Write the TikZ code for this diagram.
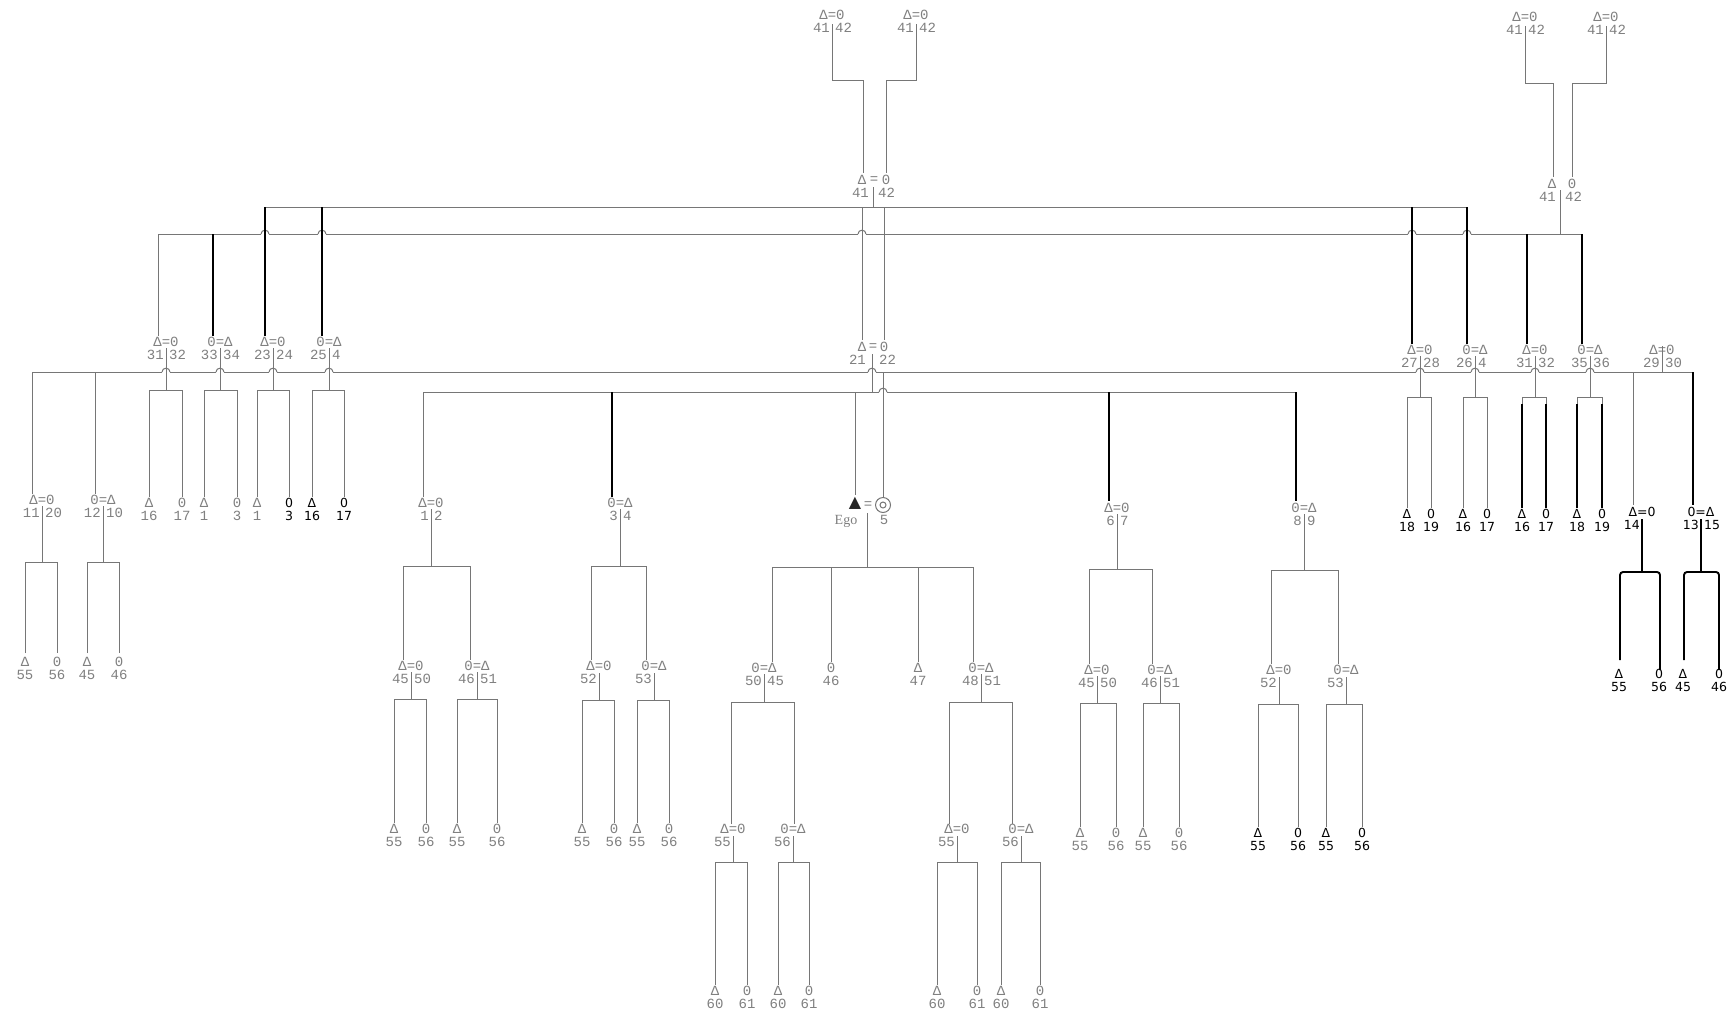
\documentclass[tikz,border=0pt]{standalone}
\usepackage{fontspec}
\newfontfamily\gfont{Liberation Mono}
\newfontfamily\bfnt{DejaVu Sans}
\newfontfamily\sfnt{Liberation Serif}
\newfontfamily\dvs{DejaVu Sans}
\definecolor{lgray}{RGB}{118,118,118}
\definecolor{tgray}{RGB}{128,128,128}
\tikzset{
 ln/.style={draw=lgray,line width=1pt},
 bk/.style={draw=black,line width=1.9pt},
 gt/.style={text=tgray,font=\gfont\fontsize{14pt}{14pt}\selectfont,inner sep=0pt},
 bt/.style={text=black,font=\bfnt\fontsize{12.5pt}{12.5pt}\selectfont,inner sep=0pt},
}
\newcounter{kc}
\newcommand\cpl[7]{%
 \node[#7] (#1) at (#2,#3) {#4};
 \node[#7,anchor=east] (#1l) at ({#2-2},{#3+13}) {#5};
 \node[#7,anchor=west] (#1r) at ({#2+3},{#3+13}) {#6};}
\newcommand\kid[5]{\stepcounter{kc}%
 \node[#5] (k\arabic{kc}) at (#1,#2) {#3};
 \node[#5] (k\arabic{kc}n) at (#1,{#2+13}) {#4};}
\newcommand\fmly[7]{%
 \draw[#7] (#1,#2) -- (#1,#3);
 \draw[#7] (#4,#6) -- (#4,#3) -- (#5,#3) -- (#5,#6);}
\newcommand\hopx[2]{%
 \fill[white] ({#1-4},{#2-1.6}) rectangle ({#1+4},{#2+1.6});
 \draw[ln] ({#1-4},#2) .. controls ({#1-4},{#2-5}) and ({#1+4},{#2-5}) .. ({#1+4},#2);}
\begin{document}
\begin{tikzpicture}[x=1pt,y=-1pt]
\useasboundingbox (0,0) rectangle (1729,1018);
\fill[white] (0,0) rectangle (1729,1018);
% ---------- top generation
\cpl{ta}{832}{15}{Δ=0}{41}{42}{gt}
\cpl{tb}{916}{15}{Δ=0}{41}{42}{gt}
\cpl{tc}{1525}{17}{Δ=0}{41}{42}{gt}
\cpl{td}{1606}{17}{Δ=0}{41}{42}{gt}
\draw[ln] (832,24) -- (832,80) -- (863,80) -- (863,173);
\draw[ln] (916,24) -- (916,80) -- (886,80) -- (886,173);
\draw[ln] (1525,26) -- (1525,83) -- (1553,83) -- (1553,177);
\draw[ln] (1606,26) -- (1606,83) -- (1572,83) -- (1572,177);
% ---------- level 1 couples
\node[gt] (m41a) at (862,180) {Δ};
\node[gt] (m41e) at (874,180) {=};
\node[gt] (m41b) at (886,180) {0};
\node[gt,anchor=east] (m41l) at (869,193) {41};
\node[gt,anchor=west] (m41r) at (878,193) {42};
\draw[ln] (873,187) -- (873,207);
\node[gt] (r41a) at (1552,184) {Δ};
\node[gt] (r41b) at (1572,184) {0};
\node[gt,anchor=east] (r41l) at (1556,197) {41};
\node[gt,anchor=west] (r41r) at (1565,197) {42};
\draw[ln] (1560,190) -- (1560,234);
% ---------- horizontal sibling lines
\draw[ln] (265,207) -- (1467,207);
\draw[ln] (158,234) -- (1582,234);
\draw[ln] (32,372) -- (1693,372);
\draw[ln] (423,392) -- (1296,392);
\foreach \x in {265,322,862,1412,1467} {\hopx{\x}{234}}
\foreach \x in {166,220,273,329,872,1420,1475,1535,1590} {\hopx{\x}{372}}
\hopx{883}{392}
% ---------- level 1 -> level 2
\draw[ln] (158,234) -- (158,336);
\draw[bk] (213,234) -- (213,336);
\draw[bk] (265,207) -- (265,336);
\draw[bk] (322,207) -- (322,336);
\draw[ln] (862,207) -- (862,340);
\draw[ln] (884,207) -- (884,340);
\draw[bk] (1412,207) -- (1412,344);
\draw[bk] (1467,207) -- (1467,344);
\draw[bk] (1527,234) -- (1527,344);
\draw[bk] (1582,234) -- (1582,344);
% ---------- level 2 couples
\cpl{la}{166}{342}{Δ=0}{31}{32}{gt}
\cpl{lb}{220}{342}{0=Δ}{33}{34}{gt}
\cpl{lc}{273}{342}{Δ=0}{23}{24}{gt}
\cpl{ld}{329}{342}{0=Δ}{25}{4}{gt}
\node[gt] (c21a) at (862,347) {Δ};
\node[gt] (c21e) at (873,347) {=};
\node[gt] (c21b) at (884,347) {0};
\node[gt,anchor=east] (c21l) at (866,360) {21};
\node[gt,anchor=west] (c21r) at (879,360) {22};
\cpl{ra}{1420}{350}{Δ=0}{27}{28}{gt}
\cpl{rb}{1475}{350}{0=Δ}{26}{4}{gt}
\cpl{rc}{1535}{350}{Δ=0}{31}{32}{gt}
\cpl{rd}{1590}{350}{0=Δ}{35}{36}{gt}
\cpl{re}{1662}{350}{Δ=0}{29}{30}{gt}
\draw[ln] (1662,346) -- (1662,372);
% left level-2 families
\fmly{166}{348}{390}{149}{182}{497}{ln}
\fmly{220}{348}{390}{204}{237}{497}{ln}
\fmly{273}{348}{390}{257}{289}{497}{ln}
\fmly{329}{348}{390}{312}{344}{497}{ln}
\kid{149}{503}{Δ}{16}{gt}\kid{182}{503}{0}{17}{gt}
\kid{204}{503}{Δ}{1}{gt}\kid{237}{503}{0}{3}{gt}
\kid{257}{503}{Δ}{1}{gt}\kid{289}{503}{0}{3}{bt}
\kid{312}{503}{Δ}{16}{bt}\kid{344}{503}{0}{17}{bt}
% right level-2 families
\fmly{1420}{356}{397}{1407}{1431}{508}{ln}
\fmly{1475}{356}{397}{1463}{1487}{508}{ln}
\fmly{1535}{356}{397}{1522}{1546}{508}{ln}
\fmly{1590}{356}{397}{1577}{1602}{508}{ln}
\draw[bk] (1522,404) -- (1522,508);
\draw[bk] (1546,404) -- (1546,508);
\draw[bk] (1577,404) -- (1577,508);
\draw[bk] (1602,404) -- (1602,508);
\kid{1407}{514}{Δ}{18}{bt}\kid{1431}{514}{0}{19}{bt}
\kid{1463}{514}{Δ}{16}{bt}\kid{1487}{514}{0}{17}{bt}
\kid{1522}{514}{Δ}{16}{bt}\kid{1546}{514}{0}{17}{bt}
\kid{1577}{514}{Δ}{18}{bt}\kid{1602}{514}{0}{19}{bt}
% 21=22 separator
\draw[ln] (872,354) -- (872,392);
% ---------- from the 29=30 line
\draw[ln] (32,372) -- (32,494);
\draw[ln] (95,372) -- (95,494);
\draw[ln] (1633,372) -- (1633,505);
\draw[bk] (1693,372) -- (1693,505);
\draw[ln] (883,372) -- (883,497);
\cpl{ca}{42}{500}{Δ=0}{11}{20}{gt}
\cpl{cb}{103}{500}{0=Δ}{12}{10}{gt}
\fmly{42}{506}{562}{25}{57}{653}{ln}
\fmly{103}{506}{562}{87}{119}{653}{ln}
\kid{25}{662}{Δ}{55}{gt}\kid{57}{662}{0}{56}{gt}
\kid{87}{662}{Δ}{45}{gt}\kid{119}{662}{0}{46}{gt}
\cpl{cc}{1642}{512}{Δ=0}{14}{}{bt}
\cpl{cd}{1701}{512}{0=Δ}{13}{15}{bt}
\draw[bk] (1642,519) -- (1642,572);
\draw[bk,rounded corners=3pt] (1620,660) -- (1620,572) -- (1660,572) -- (1660,670);
\draw[bk] (1701,519) -- (1701,572);
\draw[bk,rounded corners=3pt] (1684,660) -- (1684,572) -- (1719,572) -- (1719,670);
\kid{1619}{674}{Δ}{55}{bt}\kid{1659}{674}{0}{56}{bt}
\kid{1683}{674}{Δ}{45}{bt}\kid{1719}{674}{0}{46}{bt}
% ---------- from 21=22 line
\draw[ln] (423,392) -- (423,497);
\draw[bk] (612,392) -- (612,497);
\draw[ln] (855,392) -- (855,495);
\draw[bk] (1109,392) -- (1109,501);
\draw[bk] (1296,392) -- (1296,501);
\cpl{da}{431}{503}{Δ=0}{1}{2}{gt}
\cpl{db}{620}{503}{0=Δ}{3}{4}{gt}
\cpl{dc}{1117}{508}{Δ=0}{6}{7}{gt}
\cpl{dd}{1304}{508}{0=Δ}{8}{9}{gt}
\node[font=\dvs\fontsize{16pt}{16pt}\selectfont,text=black!85,inner sep=0pt] (ego) at (855,503) {▲};
\node[gt] (egoeq) at (868,505) {=};
\node[circle,draw=lgray,line width=1pt,minimum size=15pt,inner sep=0pt] (w5) at (883,505) {};
\node[circle,draw=lgray,line width=1pt,minimum size=6pt,inner sep=0pt] (w5i) at (883,505) {};
\node[text=tgray,font=\sfnt\fontsize{14pt}{14pt}\selectfont,inner sep=0pt] (egot) at (846,521) {Ego};
\node[gt] (n5) at (884,520) {5};
% level-3 families
\fmly{431}{509}{566}{403}{470}{660}{ln}
\fmly{620}{509}{566}{591}{646}{660}{ln}
\fmly{867}{513}{567}{772}{973}{662}{ln}
\draw[ln] (831,567) -- (831,662);
\draw[ln] (918,567) -- (918,662);
\fmly{1117}{514}{569}{1089}{1152}{664}{ln}
\fmly{1304}{514}{570}{1271}{1338}{664}{ln}
% level-4 couples
\cpl{ea}{411}{666}{Δ=0}{45}{50}{gt}
\cpl{eb}{477}{666}{0=Δ}{46}{51}{gt}
\fmly{411}{672}{699}{394}{426}{823}{ln}
\fmly{477}{672}{699}{457}{497}{823}{ln}
\kid{394}{829}{Δ}{55}{gt}\kid{426}{829}{0}{56}{gt}
\kid{457}{829}{Δ}{55}{gt}\kid{497}{829}{0}{56}{gt}
\cpl{ec}{599}{666}{Δ=0}{52}{}{gt}
\cpl{ed}{654}{666}{0=Δ}{53}{}{gt}
\fmly{599}{673}{700}{582}{614}{823}{ln}
\fmly{654}{673}{700}{637}{669}{823}{ln}
\kid{582}{829}{Δ}{55}{gt}\kid{614}{829}{0}{56}{gt}
\kid{637}{829}{Δ}{55}{gt}\kid{669}{829}{0}{56}{gt}
\cpl{fa}{764}{668}{0=Δ}{50}{45}{gt}
\kid{831}{668}{0}{46}{gt}
\kid{918}{668}{Δ}{47}{gt}
\cpl{fb}{981}{668}{0=Δ}{48}{51}{gt}
\fmly{764}{674}{702}{731}{794}{824}{ln}
\fmly{981}{674}{702}{949}{1012}{824}{ln}
\cpl{ga}{733}{829}{Δ=0}{55}{}{gt}
\cpl{gb}{793}{829}{0=Δ}{56}{}{gt}
\cpl{gc}{957}{829}{Δ=0}{55}{}{gt}
\cpl{gd}{1021}{829}{0=Δ}{56}{}{gt}
\fmly{733}{836}{862}{715}{747}{985}{ln}
\fmly{793}{836}{862}{778}{809}{985}{ln}
\fmly{957}{836}{862}{937}{977}{985}{ln}
\fmly{1021}{836}{862}{1001}{1040}{985}{ln}
\kid{715}{991}{Δ}{60}{gt}\kid{747}{991}{0}{61}{gt}
\kid{778}{991}{Δ}{60}{gt}\kid{809}{991}{0}{61}{gt}
\kid{937}{991}{Δ}{60}{gt}\kid{977}{991}{0}{61}{gt}
\kid{1001}{991}{Δ}{60}{gt}\kid{1040}{991}{0}{61}{gt}
\cpl{ha}{1097}{670}{Δ=0}{45}{50}{gt}
\cpl{hb}{1160}{670}{0=Δ}{46}{51}{gt}
\fmly{1097}{676}{703}{1080}{1116}{827}{ln}
\fmly{1160}{676}{703}{1143}{1179}{827}{ln}
\kid{1080}{833}{Δ}{55}{gt}\kid{1116}{833}{0}{56}{gt}
\kid{1143}{833}{Δ}{55}{gt}\kid{1179}{833}{0}{56}{gt}
\cpl{ia}{1279}{670}{Δ=0}{52}{}{gt}
\cpl{ib}{1346}{670}{0=Δ}{53}{}{gt}
\fmly{1279}{677}{704}{1258}{1298}{827}{ln}
\fmly{1346}{677}{704}{1326}{1362}{827}{ln}
\kid{1258}{833}{Δ}{55}{bt}\kid{1298}{833}{0}{56}{bt}
\kid{1326}{833}{Δ}{55}{bt}\kid{1362}{833}{0}{56}{bt}
\end{tikzpicture}
\end{document}
